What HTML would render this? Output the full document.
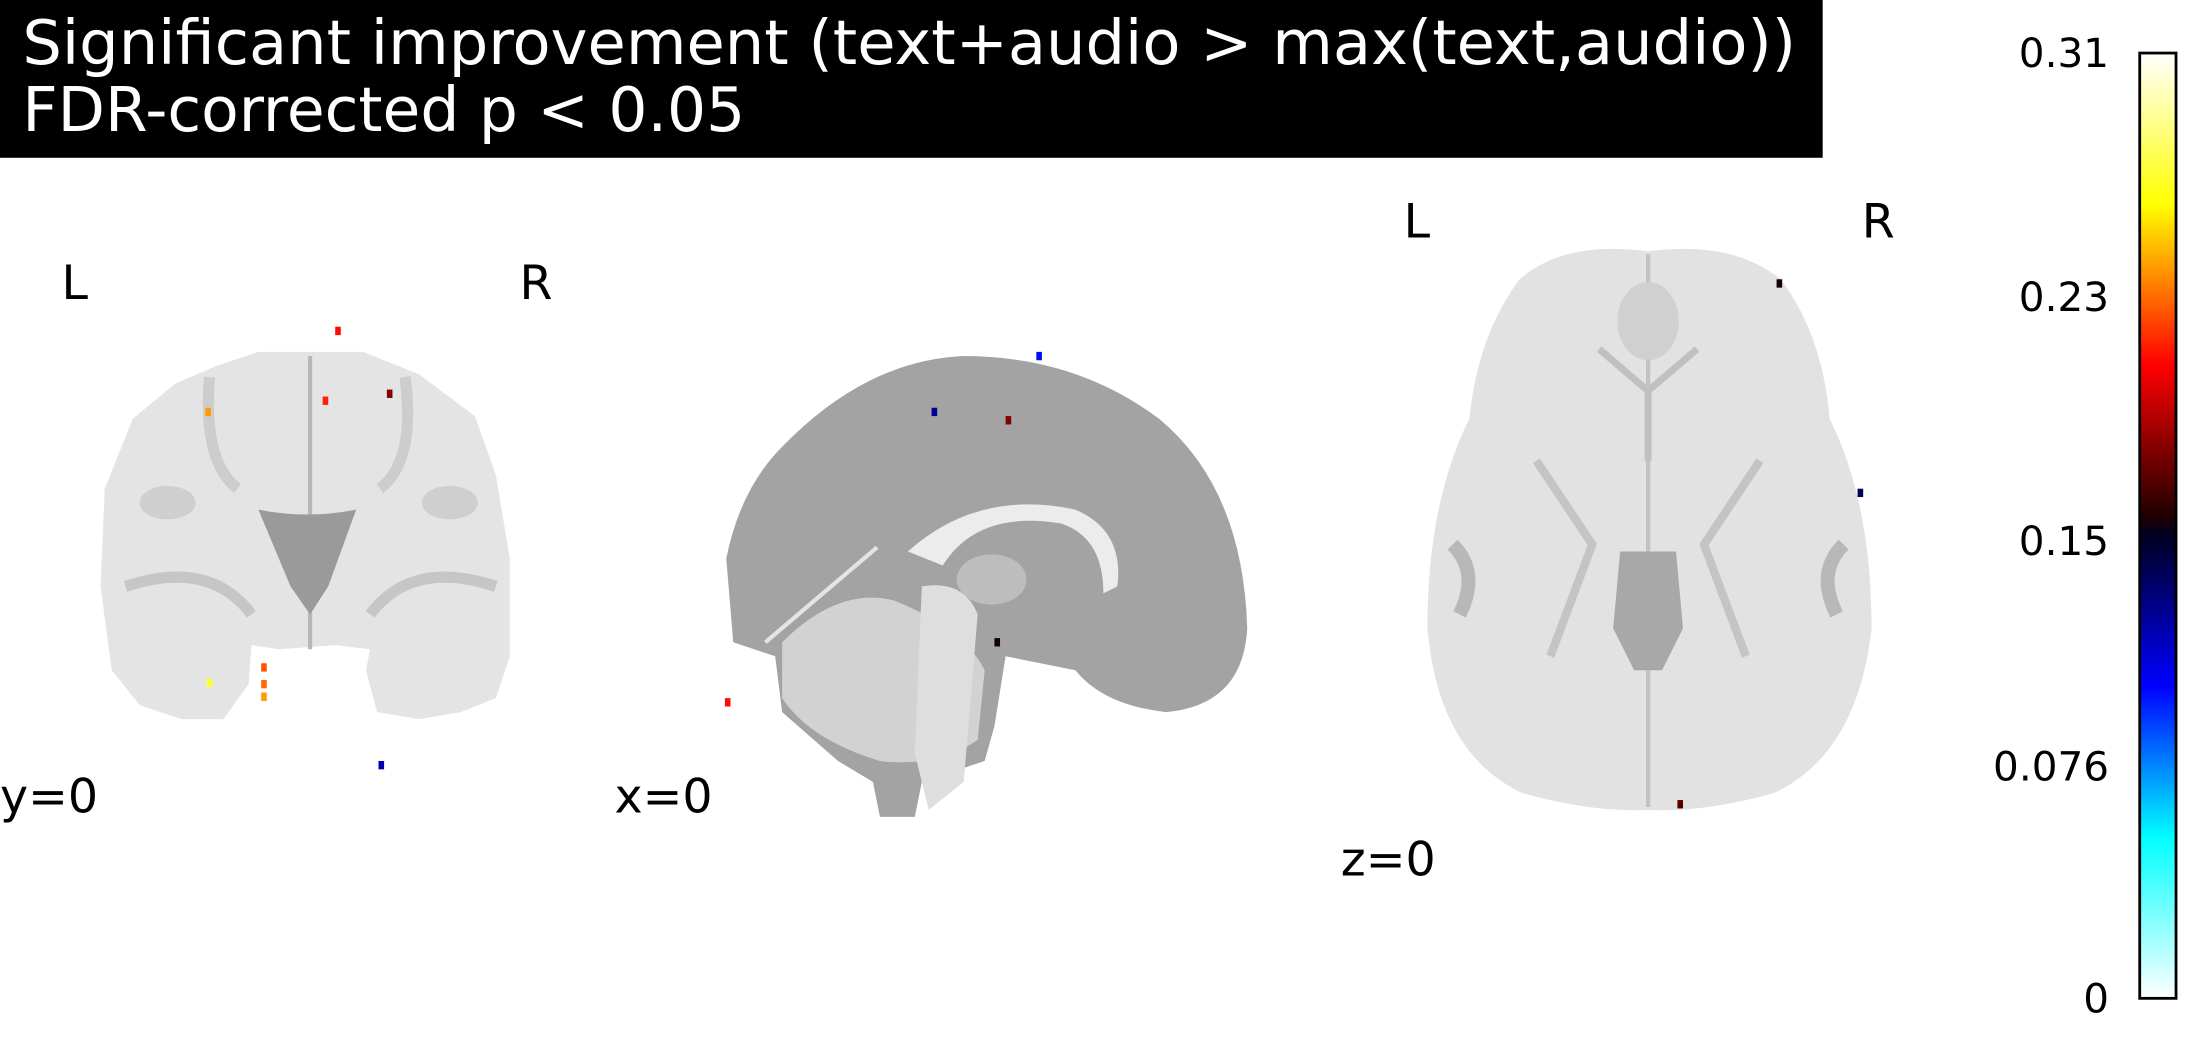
<!DOCTYPE html>
<html><head><meta charset="utf-8"><style>
html,body{margin:0;padding:0;background:#fff;}
svg{display:block;}
text{font-family:"DejaVu Sans","Liberation Sans",sans-serif;}
</style></head><body>
<svg id="fig" width="2190" height="1050" viewBox="0 0 1568 752" preserveAspectRatio="none">
<defs>
<linearGradient id="cmap" x1="0" y1="1" x2="0" y2="0">
<stop offset="0" stop-color="#ffffff"/>
<stop offset="0.17" stop-color="#00ffff"/>
<stop offset="0.33" stop-color="#0000ff"/>
<stop offset="0.49" stop-color="#000020"/>
<stop offset="0.51" stop-color="#200000"/>
<stop offset="0.67" stop-color="#ff0000"/>
<stop offset="0.84" stop-color="#ffff00"/>
<stop offset="1" stop-color="#ffffff"/>
</linearGradient>
</defs>
<g>
<rect x="0" y="0" width="1305" height="113" fill="#000"/>
<text x="16" y="46" font-size="44" textLength="1270" lengthAdjust="spacingAndGlyphs" fill="#fff">Significant improvement (text+audio &gt; max(text,audio))</text>
<text x="16" y="94" font-size="44" fill="#fff">FDR-corrected p &lt; 0.05</text>
</g>

<g>
<path d="M155,262 L185,252 L225,252 L260,252 L300,268 L340,298 L355,340 L365,400 L365,470 L355,500 L330,510 L300,515 L270,510 L262,480 L265,465 L240,462 L200,465 L180,462 L178,490 L160,515 L130,515 L100,505 L80,480 L72,420 L75,350 L95,300 L125,275 Z" fill="#e4e4e4"/>
<path d="M222,255 L222,465" stroke="#b8b8b8" stroke-width="3"/>
<path d="M185,365 Q220,372 255,365 L235,420 L222,440 L208,420 Z" fill="#9a9a9a"/>
<ellipse cx="120" cy="360" rx="20" ry="12" fill="#cfcfcf"/>
<ellipse cx="322" cy="360" rx="20" ry="12" fill="#cfcfcf"/>
<path d="M90,420 Q150,400 180,440 M355,420 Q295,400 265,440" stroke="#c6c6c6" stroke-width="8" fill="none"/>
<path d="M150,270 Q145,330 170,350 M290,270 Q298,330 272,350" stroke="#cdcdcd" stroke-width="8" fill="none"/>
</g>

<g>
<path d="M560,320 Q620,258 690,255 Q770,255 830,300 Q890,350 893,450 Q890,505 835,510 Q790,505 770,480 L720,470 L712,520 L705,545 L660,560 L655,585 L630,585 L625,560 L600,545 L560,510 L555,470 L525,460 L520,400 Q530,350 560,320 Z" fill="#a3a3a3"/>
<path d="M650,395 Q700,350 770,365 Q805,380 800,420 L790,425 Q790,385 760,375 Q700,365 675,405 Z" fill="#ececec"/>
<ellipse cx="710" cy="415" rx="25" ry="18" fill="#bdbdbd"/>
<path d="M560,460 Q600,420 640,430 Q690,450 705,480 L700,530 Q670,550 630,545 Q580,530 560,500 Z" fill="#d2d2d2"/>
<path d="M660,420 Q690,415 700,440 L690,560 L665,580 L655,540 Z" fill="#dedede"/>
<path d="M548,460 L628,392" stroke="#e4e4e4" stroke-width="3"/>
</g>

<g>
<path d="M1180,180 Q1240,172 1275,200 Q1305,240 1310,300 Q1340,360 1340,450 Q1330,540 1270,568 Q1220,582 1180,580 Q1140,582 1090,568 Q1030,540 1022,450 Q1022,360 1052,300 Q1058,240 1088,200 Q1120,172 1180,180 Z" fill="#e2e2e2"/>
<path d="M1180,182 L1180,578" stroke="#c2c2c2" stroke-width="3"/>
<path d="M1145,250 L1180,280 L1215,250 M1180,280 L1180,330" stroke="#c0c0c0" stroke-width="5" fill="none"/>
<path d="M1160,395 L1200,395 L1205,450 L1190,480 L1170,480 L1155,450 Z" fill="#a8a8a8"/>
<path d="M1040,390 Q1060,410 1045,440 M1320,390 Q1300,410 1315,440" stroke="#b8b8b8" stroke-width="10" fill="none"/>
<path d="M1100,330 L1140,390 L1110,470 M1260,330 L1220,390 L1250,470" stroke="#c4c4c4" stroke-width="6" fill="none"/>
<ellipse cx="1180" cy="230" rx="22" ry="28" fill="#d0d0d0"/>
</g>

<g id="voxels"></g>

<g font-size="34" fill="#000">
<text x="44" y="214">L</text>
<text x="372" y="214">R</text>
<text x="1005" y="170">L</text>
<text x="1333" y="170">R</text>
<text x="0" y="582">y=0</text>
<text x="440" y="582">x=0</text>
<text x="960" y="627">z=0</text>
</g>

<g>
<rect x="1532" y="38" width="26" height="677" fill="url(#cmap)" stroke="#000" stroke-width="2"/>
<g id="cbticks" font-size="29" text-anchor="end"></g>
</g>
</svg>
<script>
const NS='http://www.w3.org/2000/svg';
const tickValues=[0,0.076,0.15,0.23,0.31];
const tickLabels=['0','0.076','0.15','0.23','0.31'];
const vmin=0, vmax=0.31;
const voxelView=['coronal','coronal','coronal','coronal','coronal','coronal','coronal','coronal','coronal','sagittal','sagittal','sagittal','sagittal','sagittal','axial','axial','axial'];
const voxelX=[242,233,279,149,150,189,189,189,273,744,669,722,714,521,1274,1332,1203];
const voxelY=[237,287,282,295,489,478,490,499,548,255,295,301,460,503,203,353,576];
const voxelValue=[0.21,0.215,0.18,0.24,0.27,0.225,0.23,0.24,0.12,0.1,0.125,0.18,0.155,0.21,0.155,0.14,0.17];
const cbTop=38, cbBot=715;
function yScale(v){return cbBot-(v-vmin)/(vmax-vmin)*(cbBot-cbTop);}
const stops=[[0,[255,255,255]],[0.17,[0,255,255]],[0.33,[0,0,255]],[0.49,[0,0,32]],[0.51,[32,0,0]],[0.67,[255,0,0]],[0.84,[255,255,0]],[1,[255,255,255]]];
function cmap(v){const t=Math.max(0,Math.min(1,(v-vmin)/(vmax-vmin)));
for(let i=1;i<stops.length;i++){if(t<=stops[i][0]){const a=stops[i-1],b=stops[i];const f=(t-a[0])/(b[0]-a[0]);
return 'rgb('+a[1].map((c,k)=>Math.round(c+(b[1][k]-c)*f)).join(',')+')';}}return '#fff';}
const vg=document.getElementById('voxels');
for(let i=0;i<voxelX.length;i++){
const r=document.createElementNS(NS,'rect');
r.setAttribute('x',voxelX[i]-2);r.setAttribute('y',voxelY[i]-3);
r.setAttribute('width',4);r.setAttribute('height',6);
r.setAttribute('fill',cmap(voxelValue[i]));


vg.appendChild(r);}
const tg=document.getElementById('cbticks');
for(let i=0;i<tickValues.length;i++){
const t=document.createElementNS(NS,'text');
t.setAttribute('x',1510);t.setAttribute('y',yScale(tickValues[i])+10);
t.textContent=tickLabels[i];


tg.appendChild(t);}
</script>
</body></html>
